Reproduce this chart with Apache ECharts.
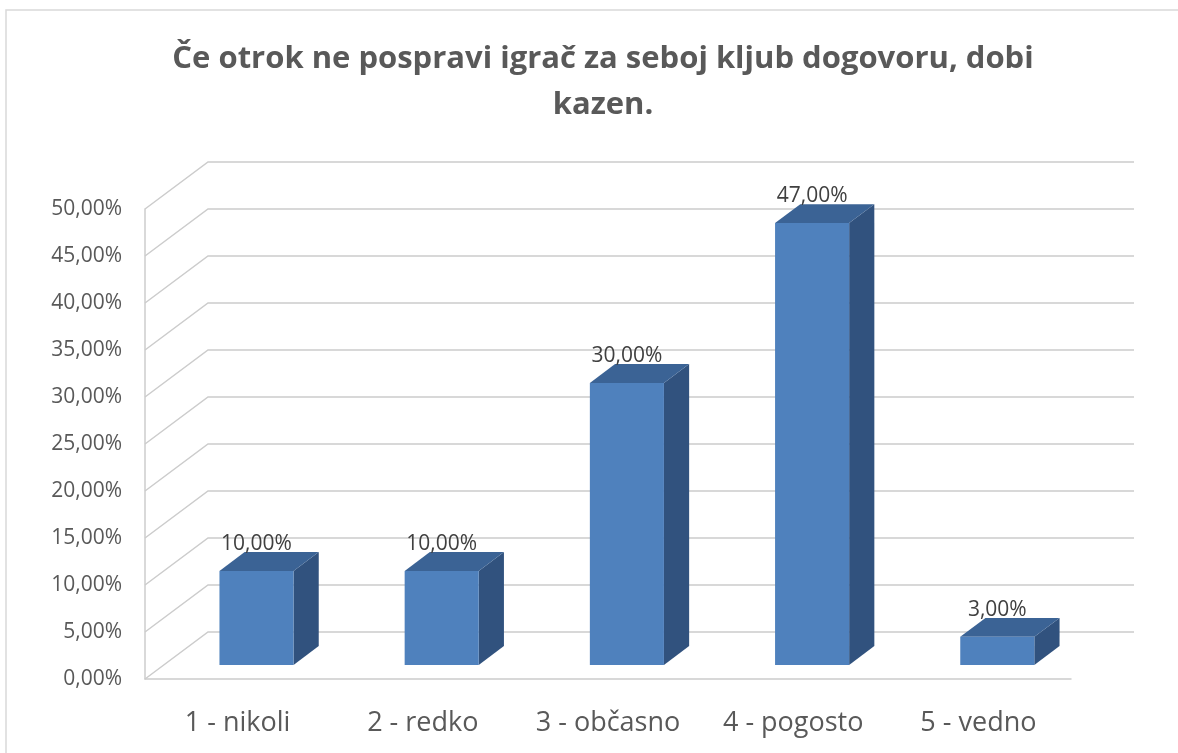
<!DOCTYPE html>
<html>
<head>
<meta charset="utf-8">
<title>Če otrok ne pospravi igrač za seboj kljub dogovoru, dobi kazen.</title>
<script src="https://cdn.jsdelivr.net/npm/echarts@6/dist/echarts.min.js"></script>
<style>
  html, body { margin: 0; padding: 0; background: #fff; }
  #chart { width: 1178px; height: 753px; }
</style>
</head>
<body>
<div id="chart"></div>
<script>
// chart data
var categories = ['1 - nikoli', '2 - redko', '3 - občasno', '4 - pogosto', '5 - vedno']
var values = [10, 10, 30, 47, 3]
var yTicks = [0, 5, 10, 15, 20, 25, 30, 35, 40, 45, 50]

// 3d look: offset of the back wall from the front plane (pixels)
var DX = 63
var DY = -47

function pct(v) {
  return v.toFixed(2).replace('.', ',') + '%'
}

var myChart = echarts.init(document.getElementById('chart'))

myChart.setOption({
  animation: false,
  title: {
    text: 'Če otrok ne pospravi igrač za seboj kljub dogovoru, dobi\nkazen.',
    left: 598,
    top: 31,
    textAlign: 'center',
    textStyle: {
      fontFamily: 'Open Sans',
      fontWeight: 'bold',
      fontSize: 31,
      lineHeight: 46,
      color: '#595959'
    }
  },
  graphic: [{
    type: 'rect',
    shape: { x: 6, y: 10, width: 1300, height: 900 },
    style: { fill: 'none', stroke: '#d9d9d9', lineWidth: 1.5 },
    silent: true
  }],
  grid: {
    left: 145,
    right: 107,
    top: 209,
    bottom: 74
  },
  xAxis: {
    type: 'category',
    data: categories,
    axisTick: { show: false },
    axisLine: { lineStyle: { color: '#cccccc', width: 1.5 } },
    axisLabel: {
      interval: 0,
      hideOverlap: false,
      fontFamily: 'Open Sans',
      fontSize: 27,
      color: '#595959',
      margin: 31
    }
  },
  yAxis: {
    type: 'value',
    min: 0,
    max: 50,
    interval: 5,
    axisLine: { show: true, lineStyle: { color: '#cccccc', width: 1.5 } },
    axisTick: { show: false },
    splitLine: { show: false },
    axisLabel: {
      fontFamily: 'Open Sans',
      fontSize: 21,
      color: '#595959',
      margin: 23,
      formatter: function(v) { return pct(v) }
    }
  },
  series: [
    {
      // back wall + side wall gridlines
      type: 'custom',
      silent: true,
      z: 1,
      data: yTicks.map(function(v) { return [0, v] }),
      renderItem: function(params, api) {
        var cs = params.coordSys
        var y = api.coord([0, api.value(1)])[1]
        return {
          type: 'polyline',
          shape: {
            points: [
              [cs.x, y],
              [cs.x + DX, y + DY],
              [cs.x + cs.width + DX, y + DY]
            ]
          },
          style: { stroke: '#cccccc', lineWidth: 1.5, fill: null }
        }
      }
    },
    {
      // 3d bars
      type: 'custom',
      z: 3,
      data: values.map(function(v, i) { return [i, v] }),
      renderItem: function(params, api) {
        var top = api.coord([api.value(0), api.value(1)])
        var base = api.coord([api.value(0), 0])
        var band = api.size([1, 0])[0]
        var w = band * 0.4
        // front face sits 30% into the depth, bar is 40% deep
        var fx = 0.3 * DX
        var fy = 0.3 * DY
        var tx = 0.4 * DX
        var ty = 0.4 * DY
        var l = top[0] - w / 2 + fx
        var r = top[0] + w / 2 + fx
        var t = top[1] + fy
        var b = base[1] + fy
        return {
          type: 'group',
          children: [
            {
              type: 'polygon',
              shape: { points: [[r, t], [r + tx, t + ty], [r + tx, b + ty], [r, b]] },
              style: { fill: '#31527e' }
            },
            {
              type: 'polygon',
              shape: { points: [[l, t], [r, t], [r + tx, t + ty], [l + tx, t + ty]] },
              style: { fill: '#3b6395' }
            },
            {
              type: 'rect',
              shape: { x: l, y: t, width: r - l, height: b - t },
              style: { fill: '#4f81bd' }
            },
            {
              type: 'text',
              x: (l + r) / 2,
              y: t + ty - 8,
              style: {
                text: pct(api.value(1)),
                fontFamily: 'Open Sans',
                fontSize: 21,
                fill: '#404040',
                align: 'center',
                verticalAlign: 'middle'
              }
            }
          ]
        }
      }
    }
  ]
})
</script>
</body>
</html>
